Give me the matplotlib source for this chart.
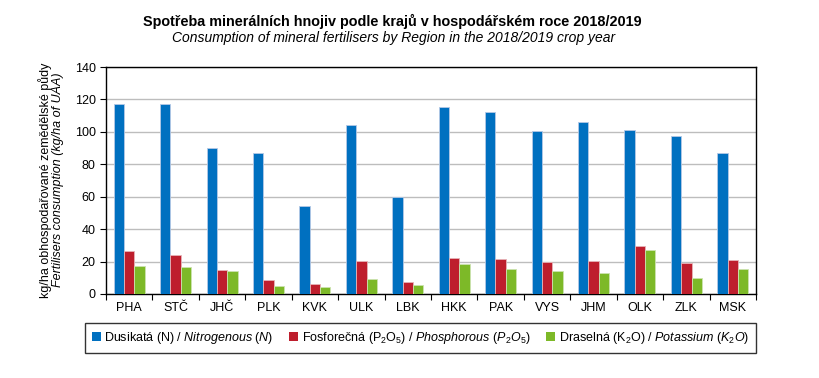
import numpy as np
import matplotlib
matplotlib.use("Agg")
import matplotlib.pyplot as plt
from matplotlib.patches import Patch

plt.rcParams["font.family"] = ["Liberation Sans", "DejaVu Sans"]
plt.rcParams["mathtext.fontset"] = "custom"
plt.rcParams["mathtext.rm"] = "Liberation Sans"
plt.rcParams["mathtext.it"] = "Liberation Sans:italic"

# data (kg/ha of UAA)
regions = ["PHA", "STČ", "JHČ", "PLK", "KVK", "ULK", "LBK",
           "HKK", "PAK", "VYS", "JHM", "OLK", "ZLK", "MSK"]
nitrogen = [117.0, 117.2, 89.9, 87.1, 54.2, 104.5, 60.0,
            115.6, 112.1, 100.6, 106.0, 101.0, 97.5, 87.1]
phosphorus = [26.3, 23.8, 14.6, 8.8, 6.4, 20.3, 7.2,
              22.2, 21.8, 19.7, 20.3, 29.6, 18.9, 20.7]
potassium = [17.0, 16.8, 14.2, 4.7, 4.3, 9.2, 5.7,
             18.7, 15.4, 14.0, 12.9, 27.1, 10.1, 15.4]
yticks = [0, 20, 40, 60, 80, 100, 120, 140]

labels = [
    r"Dusikatá (N) / $\mathit{Nitrogenous\ (N)}$",
    r"Fosforečná (P$_2$O$_5$) / $\mathit{Phosphorous\ (P_2O_5)}$",
    r"Draselná (K$_2$O) / $\mathit{Potassium\ (K_2O)}$",
]
colors = ["#0070C0", "#BE1E2D", "#7DB928"]
edges = ["#B4C8E6", "#E6B4B8", "#CCE3B0"]

fig = plt.figure(figsize=(8.19, 3.78), dpi=100)
ax = fig.add_axes([106 / 819, 1 - 294 / 378, 650 / 819, 227 / 378])

x = np.arange(len(regions))
w = 0.222
for i, vals in enumerate([nitrogen, phosphorus, potassium]):
    ax.bar(x + (i - 1) * w, vals, width=w, color=colors[i],
           edgecolor=edges[i], linewidth=0.6, zorder=3)

ax.set_xlim(-0.5, len(regions) - 0.5)
ax.set_ylim(0, 140)
ax.set_yticks(yticks)
ax.yaxis.grid(True, color="#BDBDBD", linewidth=1.0, zorder=0)
ax.set_xticks(x)
ax.set_xticklabels(regions, fontsize=9)
ax.tick_params(axis="x", length=0, pad=6)
ax.set_xticks(np.arange(len(regions) + 1) - 0.5, minor=True)
ax.tick_params(axis="x", which="minor", length=4, width=0.8)
ax.tick_params(axis="y", labelsize=9, length=4, width=0.8, direction="out")
for s in ax.spines.values():
    s.set_linewidth(1.0)
    s.set_color("black")

fig.text(45 / 819, 1 - 180 / 378, "kg/ha obhospodařované zemědělské půdy",
         rotation=90, ha="center", va="center", fontsize=9)
fig.text(58 / 819, 1 - 180 / 378, "Fertilisers consumption (kg/ha of UAA)",
         rotation=90, ha="center", va="center", fontsize=9, style="italic")

fig.text(392 / 819, 1 - 21 / 378,
         "Spotřeba minerálních hnojiv podle krajů v hospodářském roce 2018/2019",
         ha="center", va="center", fontsize=10.4, fontweight="bold")
fig.text(394 / 819, 1 - 38 / 378,
         "Consumption of mineral fertilisers by Region in the 2018/2019 crop year",
         ha="center", va="center", fontsize=10, style="italic")

handles = [Patch(facecolor=c, edgecolor="none") for c in colors]
leg = fig.legend(handles, labels, ncol=3, loc="lower left", mode="expand",
                 bbox_to_anchor=(85 / 819, 1 - 353 / 378, 671 / 819, 28 / 378),
                 fontsize=9, frameon=True, fancybox=False,
                 edgecolor="black", handlelength=0.7, handleheight=0.7,
                 handletextpad=0.3, borderpad=0.55, borderaxespad=0)
leg.get_frame().set_linewidth(1.0)

fig.savefig("out.png", dpi=100)
